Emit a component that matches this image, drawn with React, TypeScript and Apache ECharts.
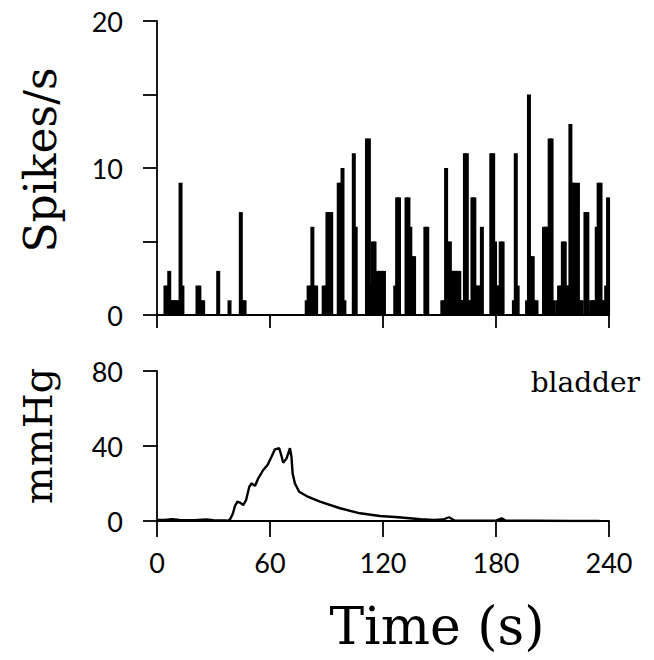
import React, { useEffect, useRef } from "react";
import * as echarts from "echarts";

// Spike histogram: [bin start time (s), spikes/s], 1-s bins; empty bins omitted
const spikeBins: [number, number][] = [
  [4, 2], [5, 2], [6, 3], [7, 1], [8, 1], [9, 1], [10, 1], [11, 1], [12, 9], [13, 2],
  [21, 2], [22, 2], [23, 1], [24, 1], [32, 3], [38, 1], [44, 7], [45, 1], [46, 1],
  [79, 1], [80, 2], [81, 2], [82, 6], [83, 2], [84, 2], [88, 2], [89, 2], [90, 7], [91, 7], [92, 7],
  [96, 9], [97, 9], [98, 10], [99, 1], [104, 11], [105, 6], [111, 12], [112, 12], [113, 2],
  [114, 5], [115, 5], [116, 3], [117, 3], [118, 3], [119, 3], [120, 3],
  [126, 2], [127, 8], [128, 8], [132, 8], [133, 8], [134, 6], [135, 4], [136, 4],
  [142, 6], [143, 6], [151, 1], [152, 1], [153, 10], [154, 5], [155, 5], [156, 3],
  [157, 3], [158, 3], [159, 3], [160, 3], [161, 1], [162, 1], [163, 11], [164, 11],
  [165, 1], [166, 1], [167, 8], [168, 8], [169, 2], [170, 2], [171, 2], [172, 6],
  [177, 11], [178, 11], [179, 5], [180, 2], [181, 2], [182, 5], [183, 5],
  [189, 1], [190, 11], [191, 2], [196, 1], [197, 15], [198, 4], [199, 4], [200, 1], [201, 1],
  [205, 6], [206, 6], [207, 6], [208, 12], [209, 12], [210, 1], [212, 1], [213, 2], [214, 2],
  [215, 5], [216, 5], [217, 2], [218, 2], [219, 13], [220, 9], [221, 9], [222, 1], [223, 9],
  [224, 1], [225, 1], [227, 7], [228, 7], [230, 1], [231, 1], [232, 1], [233, 6],
  [234, 9], [235, 9], [236, 1], [237, 1], [238, 2], [239, 8],
];

// Bladder pressure trace: [time (s), mmHg]
const pressure: [number, number][] = [
  [0, 0.5], [4, 0.6], [8, 1.0], [12, 0.5], [20, 0.4], [26, 0.8], [30, 0.4], [36, 0.3],
  [37.9, 0.2], [38.8, 0.9], [40.2, 3.7], [41.4, 8], [42.7, 10.3], [44.1, 9.8], [45.8, 8.5],
  [47.3, 11.2], [49, 18.3], [50.3, 20.1], [52, 18.7], [53.8, 22.8], [56.4, 27.2],
  [58.7, 29.9], [60.8, 34.3], [62.6, 38.2], [64.9, 38.8], [66.2, 34.3], [67, 31.1],
  [68.8, 33.4], [70.6, 38.8], [71.4, 34.3], [72, 25.4], [73.2, 20.1], [75.5, 15.6],
  [79.4, 13.3], [86.5, 10.3], [97.2, 6.8], [107.8, 4.1], [118.4, 2.7], [128.1, 2.0],
  [140, 0.9], [147, 0.5], [152, 0.8], [155, 2.0], [158, 0.3], [171, 0.2], [180, 0.2],
  [183, 1.4], [185, 0.2], [200, 0.1], [220, 0], [235, 0],
];

const timeTicks = [0, 60, 120, 180, 240];
const spikeLabels = [0, 10, 20];
const pressureTicks = [0, 40, 80];

const TICK_FONT = "Lato";
const TITLE_FONT = "DejaVu Serif";

export default function App() {
  const ref = useRef<HTMLDivElement>(null);
  useEffect(() => {
    document.body.style.margin = "0";
    const chart = echarts.init(ref.current!, undefined, { renderer: "svg" });
    const axisLine = { show: true, lineStyle: { color: "#000", width: 1.8 } };
    const tick = (len: number) => ({ show: true, inside: false, length: len, lineStyle: { color: "#000", width: 1.8 } });
    const tickLabel = { color: "#000", fontFamily: TICK_FONT, fontSize: 27, fontWeight: "normal" };
    chart.setOption({
      animation: false,
      backgroundColor: "#fff",
      grid: [
        { left: 157, right: 45, top: 21, height: 294 },
        { left: 157, right: 45, top: 371, height: 150 },
      ],
      xAxis: [
        {
          type: "value", gridIndex: 0, min: timeTicks[0], max: timeTicks[timeTicks.length - 1],
          interval: timeTicks[1] - timeTicks[0],
          axisLine, axisTick: tick(13), axisLabel: { show: false }, splitLine: { show: false },
        },
        {
          type: "value", gridIndex: 1, min: timeTicks[0], max: timeTicks[timeTicks.length - 1],
          interval: timeTicks[1] - timeTicks[0],
          axisLine, axisTick: tick(16), splitLine: { show: false },
          axisLabel: { ...tickLabel, margin: 28 },
        },
      ],
      yAxis: [
        {
          type: "value", gridIndex: 0, min: 0, max: spikeLabels[spikeLabels.length - 1], interval: 5,
          axisLine, axisTick: tick(14), splitLine: { show: false },
          axisLabel: {
            ...tickLabel, margin: 34,
            formatter: (v: number) => (spikeLabels.includes(v) ? String(v) : ""),
          },
        },
        {
          type: "value", gridIndex: 1, min: 0, max: pressureTicks[pressureTicks.length - 1],
          interval: pressureTicks[1] - pressureTicks[0],
          axisLine, axisTick: tick(14), splitLine: { show: false },
          axisLabel: { ...tickLabel, margin: 34 },
        },
      ],
      series: [
        {
          type: "bar", xAxisIndex: 0, yAxisIndex: 0, barWidth: 4,
          itemStyle: { color: "#000" },
          data: spikeBins.map(([t, v]) => [t + 0.5, v]),
        },
        {
          type: "line", xAxisIndex: 1, yAxisIndex: 1, showSymbol: false, symbol: "none",
          lineStyle: { color: "#000", width: 2.4 },
          data: pressure,
        },
      ],
      graphic: [
        {
          type: "text", x: 40, y: 160, rotation: Math.PI / 2,
          style: { text: "Spikes/s", fontFamily: TITLE_FONT, fontSize: 44, fill: "#000", textAlign: "center", textVerticalAlign: "middle" },
        },
        {
          type: "text", x: 38, y: 436, rotation: Math.PI / 2,
          style: { text: "mmHg", fontFamily: TITLE_FONT, fontSize: 40, fill: "#000", textAlign: "center", textVerticalAlign: "middle" },
        },
        {
          type: "text", x: 437, y: 626,
          style: { text: "Time (s)", fontFamily: TITLE_FONT, fontSize: 52, fill: "#000", textAlign: "center", textVerticalAlign: "middle" },
        },
        {
          type: "text", x: 640, y: 382,
          style: { text: "bladder", fontFamily: TITLE_FONT, fontSize: 28, fill: "#000", textAlign: "right", textVerticalAlign: "middle" },
        },
      ],
    });
    return () => chart.dispose();
  }, []);
  return <div ref={ref} style={{ width: 654, height: 660 }} />;
}
